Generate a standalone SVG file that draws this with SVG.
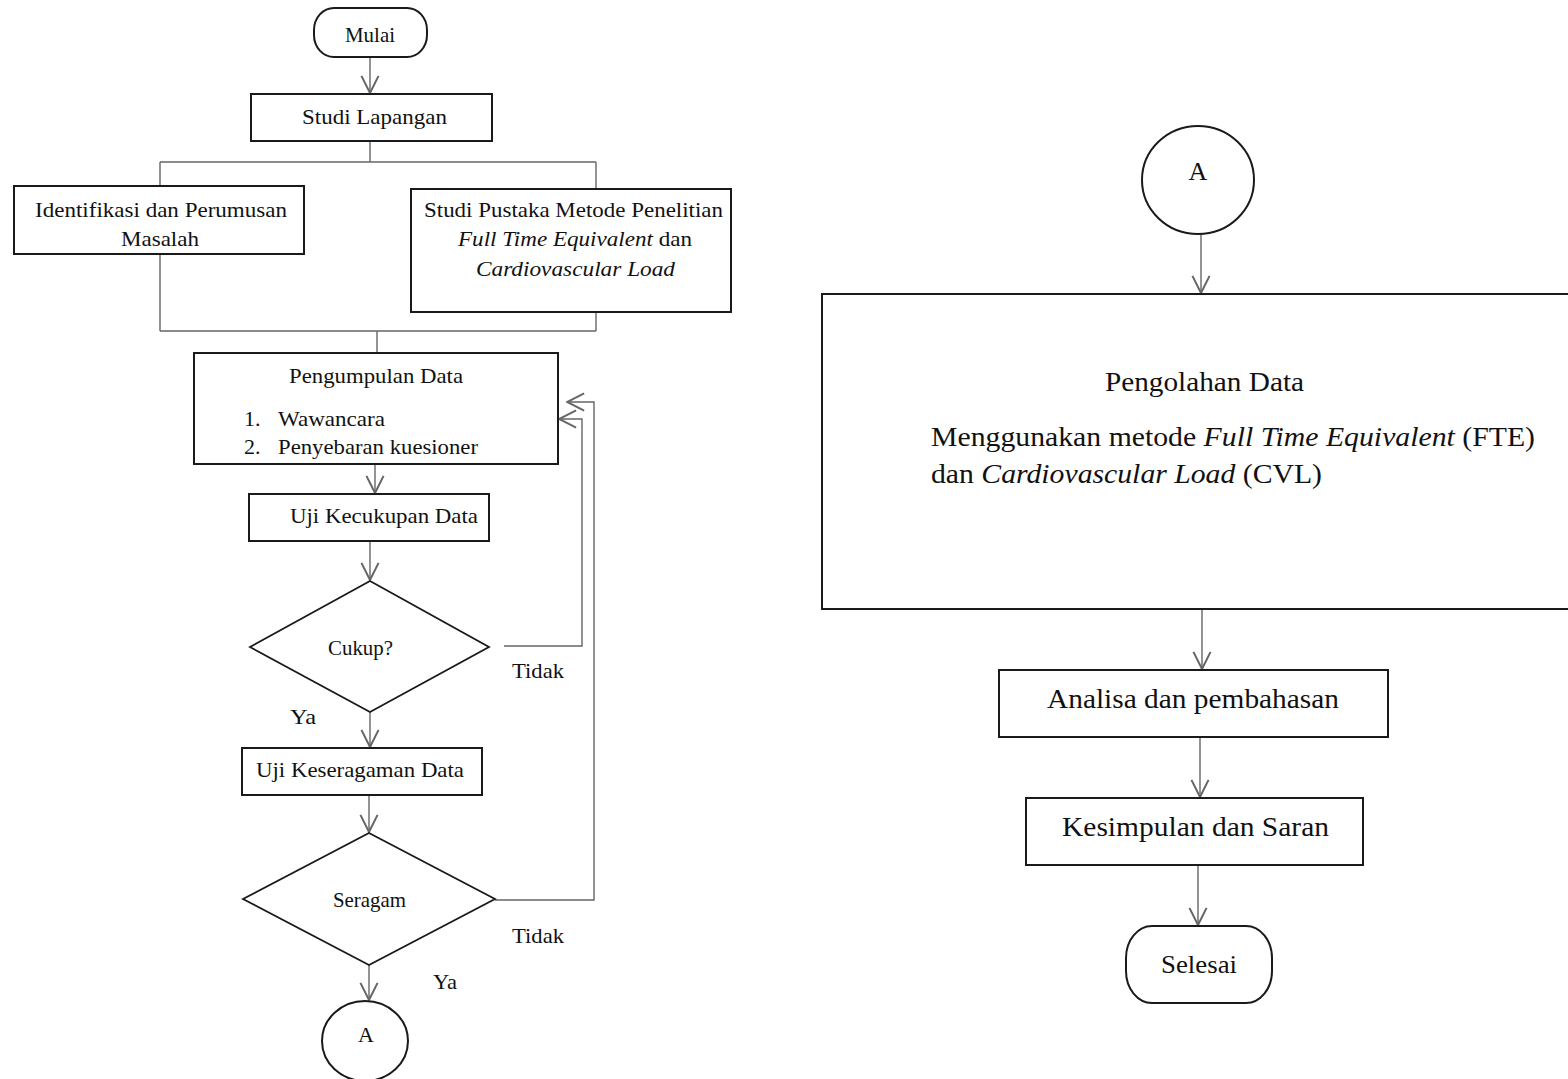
<svg xmlns="http://www.w3.org/2000/svg" width="1568" height="1079" viewBox="0 0 1568 1079">
<style>
.box{fill:#fff;stroke:#1a1a1a;stroke-width:2}
.dia{fill:#fff;stroke:#1a1a1a;stroke-width:1.8}
.con{fill:none;stroke:#666;stroke-width:1.4}
.t{font-family:"Liberation Serif","Times New Roman",serif;fill:#111;font-size:22px}
.tl{font-family:"Liberation Serif","Times New Roman",serif;fill:#111;font-size:28px}
.it{font-style:italic}
</style>
<defs>
<marker id="arr" markerUnits="userSpaceOnUse" markerWidth="20" markerHeight="20" viewBox="0 0 14 14" refX="13" refY="7" orient="auto">
<path d="M1,1 L13,7 L1,13" fill="none" stroke="#666" stroke-width="1.4"/>
</marker>
</defs>
<rect width="1568" height="1079" fill="#fff"/>
<g id="connectors">
<line class="con" x1="370" y1="57" x2="370" y2="93" marker-end="url(#arr)"/>
<path class="con" d="M370,141 V162 M160,162 H596 M160,162 V186 M596,162 V189"/>
<path class="con" d="M160,254 V331 M596,312 V331 M160,331 H596 M377,331 V353"/>
<line class="con" x1="375" y1="464" x2="375" y2="493" marker-end="url(#arr)"/>
<line class="con" x1="370" y1="541" x2="370" y2="580" marker-end="url(#arr)"/>
<line class="con" x1="370" y1="712" x2="370" y2="747" marker-end="url(#arr)"/>
<line class="con" x1="369" y1="795" x2="369" y2="832" marker-end="url(#arr)"/>
<line class="con" x1="369" y1="965" x2="369" y2="1000" marker-end="url(#arr)"/>
<path class="con" d="M504,646 H582 V419 H559" marker-end="url(#arr)"/>
<path class="con" d="M495,900 H594 V402 H567" marker-end="url(#arr)"/>
<line class="con" x1="1201" y1="234" x2="1201" y2="293" marker-end="url(#arr)"/>
<line class="con" x1="1202" y1="609" x2="1202" y2="669" marker-end="url(#arr)"/>
<line class="con" x1="1200" y1="737" x2="1200" y2="797" marker-end="url(#arr)"/>
<line class="con" x1="1198" y1="865" x2="1198" y2="925" marker-end="url(#arr)"/>
</g>
<g id="mulai">
<rect class="box" x="314" y="8" width="113" height="49" rx="20" ry="22"/>
<text class="t" x="345" y="42" textLength="50" lengthAdjust="spacingAndGlyphs">Mulai</text>
</g>
<g id="studi-lapangan">
<rect class="box" x="251" y="94" width="241" height="47"/>
<text class="t" x="302" y="124" textLength="145" lengthAdjust="spacingAndGlyphs">Studi Lapangan</text>
</g>
<g id="identifikasi">
<rect class="box" x="14" y="186" width="290" height="68"/>
<text class="t" x="35" y="217" textLength="252" lengthAdjust="spacingAndGlyphs">Identifikasi dan Perumusan</text>
<text class="t" x="121" y="246" textLength="78" lengthAdjust="spacingAndGlyphs">Masalah</text>
</g>
<g id="studi-pustaka">
<rect class="box" x="411" y="189" width="320" height="123"/>
<text class="t" x="424" y="217" textLength="299" lengthAdjust="spacingAndGlyphs">Studi Pustaka Metode Penelitian</text>
<text class="t" x="458" y="246" textLength="234" lengthAdjust="spacingAndGlyphs"><tspan class="it">Full Time Equivalent</tspan> dan</text>
<text class="t" x="476" y="276" textLength="199" lengthAdjust="spacingAndGlyphs"><tspan class="it">Cardiovascular Load</tspan></text>
</g>
<g id="pengumpulan">
<rect class="box" x="194" y="353" width="364" height="111"/>
<text class="t" x="289" y="383" textLength="174" lengthAdjust="spacingAndGlyphs">Pengumpulan Data</text>
<text class="t" x="244" y="426">1.</text>
<text class="t" x="278" y="426" textLength="107" lengthAdjust="spacingAndGlyphs">Wawancara</text>
<text class="t" x="244" y="454">2.</text>
<text class="t" x="278" y="454" textLength="200" lengthAdjust="spacingAndGlyphs">Penyebaran kuesioner</text>
</g>
<g id="uji-kecukupan">
<rect class="box" x="249" y="494" width="240" height="47"/>
<text class="t" x="290" y="523" textLength="188" lengthAdjust="spacingAndGlyphs">Uji Kecukupan Data</text>
</g>
<g id="cukup">
<polygon class="dia" points="370,581 489,647 370,712 250,647"/>
<text class="t" x="328" y="655" textLength="65" lengthAdjust="spacingAndGlyphs">Cukup?</text>
</g>
<g id="label-tidak-1"><text class="t" x="512" y="678" textLength="52" lengthAdjust="spacingAndGlyphs">Tidak</text></g>
<g id="label-ya-1"><text class="t" x="290" y="724" textLength="26" lengthAdjust="spacingAndGlyphs">Ya</text></g>
<g id="uji-keseragaman">
<rect class="box" x="242" y="748" width="240" height="47"/>
<text class="t" x="256" y="777" textLength="208" lengthAdjust="spacingAndGlyphs">Uji Keseragaman Data</text>
</g>
<g id="seragam">
<polygon class="dia" points="369,833 495,899 369,965 243,899"/>
<text class="t" x="333" y="907" textLength="73" lengthAdjust="spacingAndGlyphs">Seragam</text>
</g>
<g id="label-tidak-2"><text class="t" x="512" y="943" textLength="52" lengthAdjust="spacingAndGlyphs">Tidak</text></g>
<g id="label-ya-2"><text class="t" x="433" y="989" textLength="24" lengthAdjust="spacingAndGlyphs">Ya</text></g>
<g id="connector-a-out">
<ellipse class="box" cx="365" cy="1041" rx="43" ry="40"/>
<text class="t" x="366" y="1042" text-anchor="middle">A</text>
</g>
<g id="connector-a-in">
<ellipse class="box" cx="1198" cy="180" rx="56" ry="54"/>
<text class="tl" x="1198" y="180" text-anchor="middle" style="font-size:26px">A</text>
</g>
<g id="pengolahan">
<rect class="box" x="822" y="294" width="760" height="315"/>
<text class="tl" x="1105" y="391" textLength="199" lengthAdjust="spacingAndGlyphs">Pengolahan Data</text>
<text class="tl" x="931" y="446" textLength="604" lengthAdjust="spacingAndGlyphs">Menggunakan metode <tspan class="it">Full Time Equivalent</tspan> (FTE)</text>
<text class="tl" x="931" y="483" textLength="391" lengthAdjust="spacingAndGlyphs">dan <tspan class="it">Cardiovascular Load</tspan> (CVL)</text>
</g>
<g id="analisa">
<rect class="box" x="999" y="670" width="389" height="67"/>
<text class="tl" x="1047" y="708" textLength="292" lengthAdjust="spacingAndGlyphs">Analisa dan pembahasan</text>
</g>
<g id="kesimpulan">
<rect class="box" x="1026" y="798" width="337" height="67"/>
<text class="tl" x="1062" y="836" textLength="267" lengthAdjust="spacingAndGlyphs">Kesimpulan dan Saran</text>
</g>
<g id="selesai">
<rect class="box" x="1126" y="926" width="146" height="77" rx="26" ry="32"/>
<text class="tl" x="1161" y="973" textLength="76" lengthAdjust="spacingAndGlyphs" style="font-size:26px">Selesai</text>
</g>
</svg>
